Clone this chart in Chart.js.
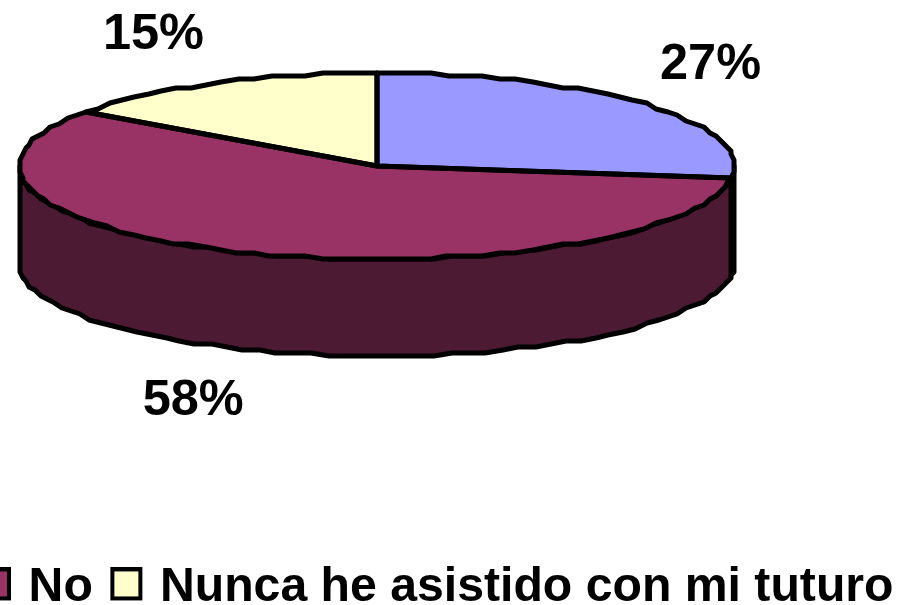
<!DOCTYPE html>
<html>
<head>
<meta charset="utf-8">
<style>
html,body{margin:0;padding:0;width:905px;height:605px;overflow:hidden;background:#fff}
#wrap{position:absolute;left:-82px;top:0;width:1040px;height:622px}
</style>
<script src="https://cdn.jsdelivr.net/npm/chart.js@4"></script>
</head>
<body>
<div id="wrap"><canvas id="c" width="1040" height="622"></canvas></div>
<script>
const categories = ['Si', 'No', 'Nunca he asistido con mi tuturo'];
const shares = [27, 58, 15];
const topColors = ['#9999FF', '#993366', '#FFFFCC'];
const wallColors = ['#4D4D80', '#4D1A33', '#808066'];

const FONT = 'bold 50.5px "Liberation Sans", Arial, sans-serif';
const view = {cx: 459, cy: 166, rx: 358, ry: 93, depth: 97};
const labelNudge = [[65, -39], [-52, 52], [-61, -48]];
const GRID = 3;
const FACET = 0.05;
const LINE = 5;

function swatch(color) {
  const s = document.createElement('canvas');
  s.width = 41; s.height = 41;
  const g = s.getContext('2d');
  g.fillStyle = color;
  g.strokeStyle = '#000';
  g.lineWidth = 4;
  g.fillRect(8, 2, 28, 29);
  g.strokeRect(8, 2, 28, 29);
  return s;
}

// Traces an elliptical arc as the slightly faceted outline of the reference.
function facetArc(ctx, cx, cy, from, to) {
  const n = Math.max(1, Math.ceil(Math.abs(to - from) / FACET));
  for (let j = 0; j <= n; j++) {
    const t = from + (to - from) * j / n;
    const x = Math.round((view.rx * Math.cos(t)) / GRID) * GRID + cx;
    const y = Math.round((view.ry * Math.sin(t)) / GRID) * GRID + cy;
    ctx.lineTo(x, y);
  }
}

const pie3d = {
  id: 'pie3d',
  beforeDatasetDraw(chart) {
    const ctx = chart.ctx;
    const arcs = chart.getDatasetMeta(0).data;
    const first = arcs[0];
    const R = first.outerRadius;
    ctx.save();
    ctx.lineWidth = LINE;
    ctx.lineJoin = 'round';
    ctx.strokeStyle = '#000';
    arcs.forEach((a, i) => {
      const s = Math.max(a.startAngle, 0), e = Math.min(a.endAngle, Math.PI);
      if (e <= s) return;
      ctx.beginPath();
      facetArc(ctx, view.cx, view.cy, s, e);
      facetArc(ctx, view.cx, view.cy + view.depth, e, s);
      ctx.closePath();
      ctx.fillStyle = wallColors[i];
      ctx.fill();
      ctx.stroke();
    });
    ctx.restore();
    ctx.save();
    ctx.translate(view.cx, view.cy);
    ctx.scale(view.rx / R, view.ry / R);
    ctx.translate(-first.x, -first.y);
  },
  afterDatasetDraw(chart) {
    const ctx = chart.ctx;
    ctx.restore();
    const arcs = chart.getDatasetMeta(0).data;
    ctx.save();
    ctx.lineWidth = LINE;
    ctx.lineJoin = 'round';
    ctx.strokeStyle = '#000';
    arcs.forEach(a => {
      ctx.beginPath();
      ctx.moveTo(view.cx, view.cy);
      facetArc(ctx, view.cx, view.cy, a.startAngle, a.endAngle);
      ctx.closePath();
      ctx.stroke();
    });
    ctx.fillStyle = '#000';
    ctx.font = FONT;
    ctx.textAlign = 'center';
    ctx.textBaseline = 'middle';
    arcs.forEach((a, i) => {
      const mid = (a.startAngle + a.endAngle) / 2;
      const x = view.cx + view.rx * Math.cos(mid);
      let y = view.cy + view.ry * Math.sin(mid);
      if (Math.sin(mid) > 0) y += view.depth;
      ctx.fillText(shares[i] + '%', x + labelNudge[i][0], y + labelNudge[i][1]);
    });
    ctx.restore();
  }
};

new Chart(document.getElementById('c'), {
  type: 'pie',
  data: {
    labels: categories,
    datasets: [{
      data: shares,
      backgroundColor: topColors,
      borderWidth: 0,
      clip: false
    }]
  },
  options: {
    responsive: false,
    animation: false,
    plugins: {
      tooltip: {enabled: false},
      legend: {
        display: true,
        position: 'bottom',
        labels: {
          color: '#000',
          font: {family: '"Liberation Sans", Arial, sans-serif', size: 48.2, weight: 'bold'},
          boxWidth: 22,
          pointStyleWidth: 22,
          usePointStyle: true,
          padding: 21,
          generateLabels: () => categories.map((t, i) => ({
            text: t, fillStyle: topColors[i], strokeStyle: '#000', lineWidth: 4,
            pointStyle: swatch(topColors[i]), hidden: false, index: i
          })),
          filter: item => item.index > 0
        }
      }
    }
  },
  plugins: [pie3d]
});
</script>
</body>
</html>
